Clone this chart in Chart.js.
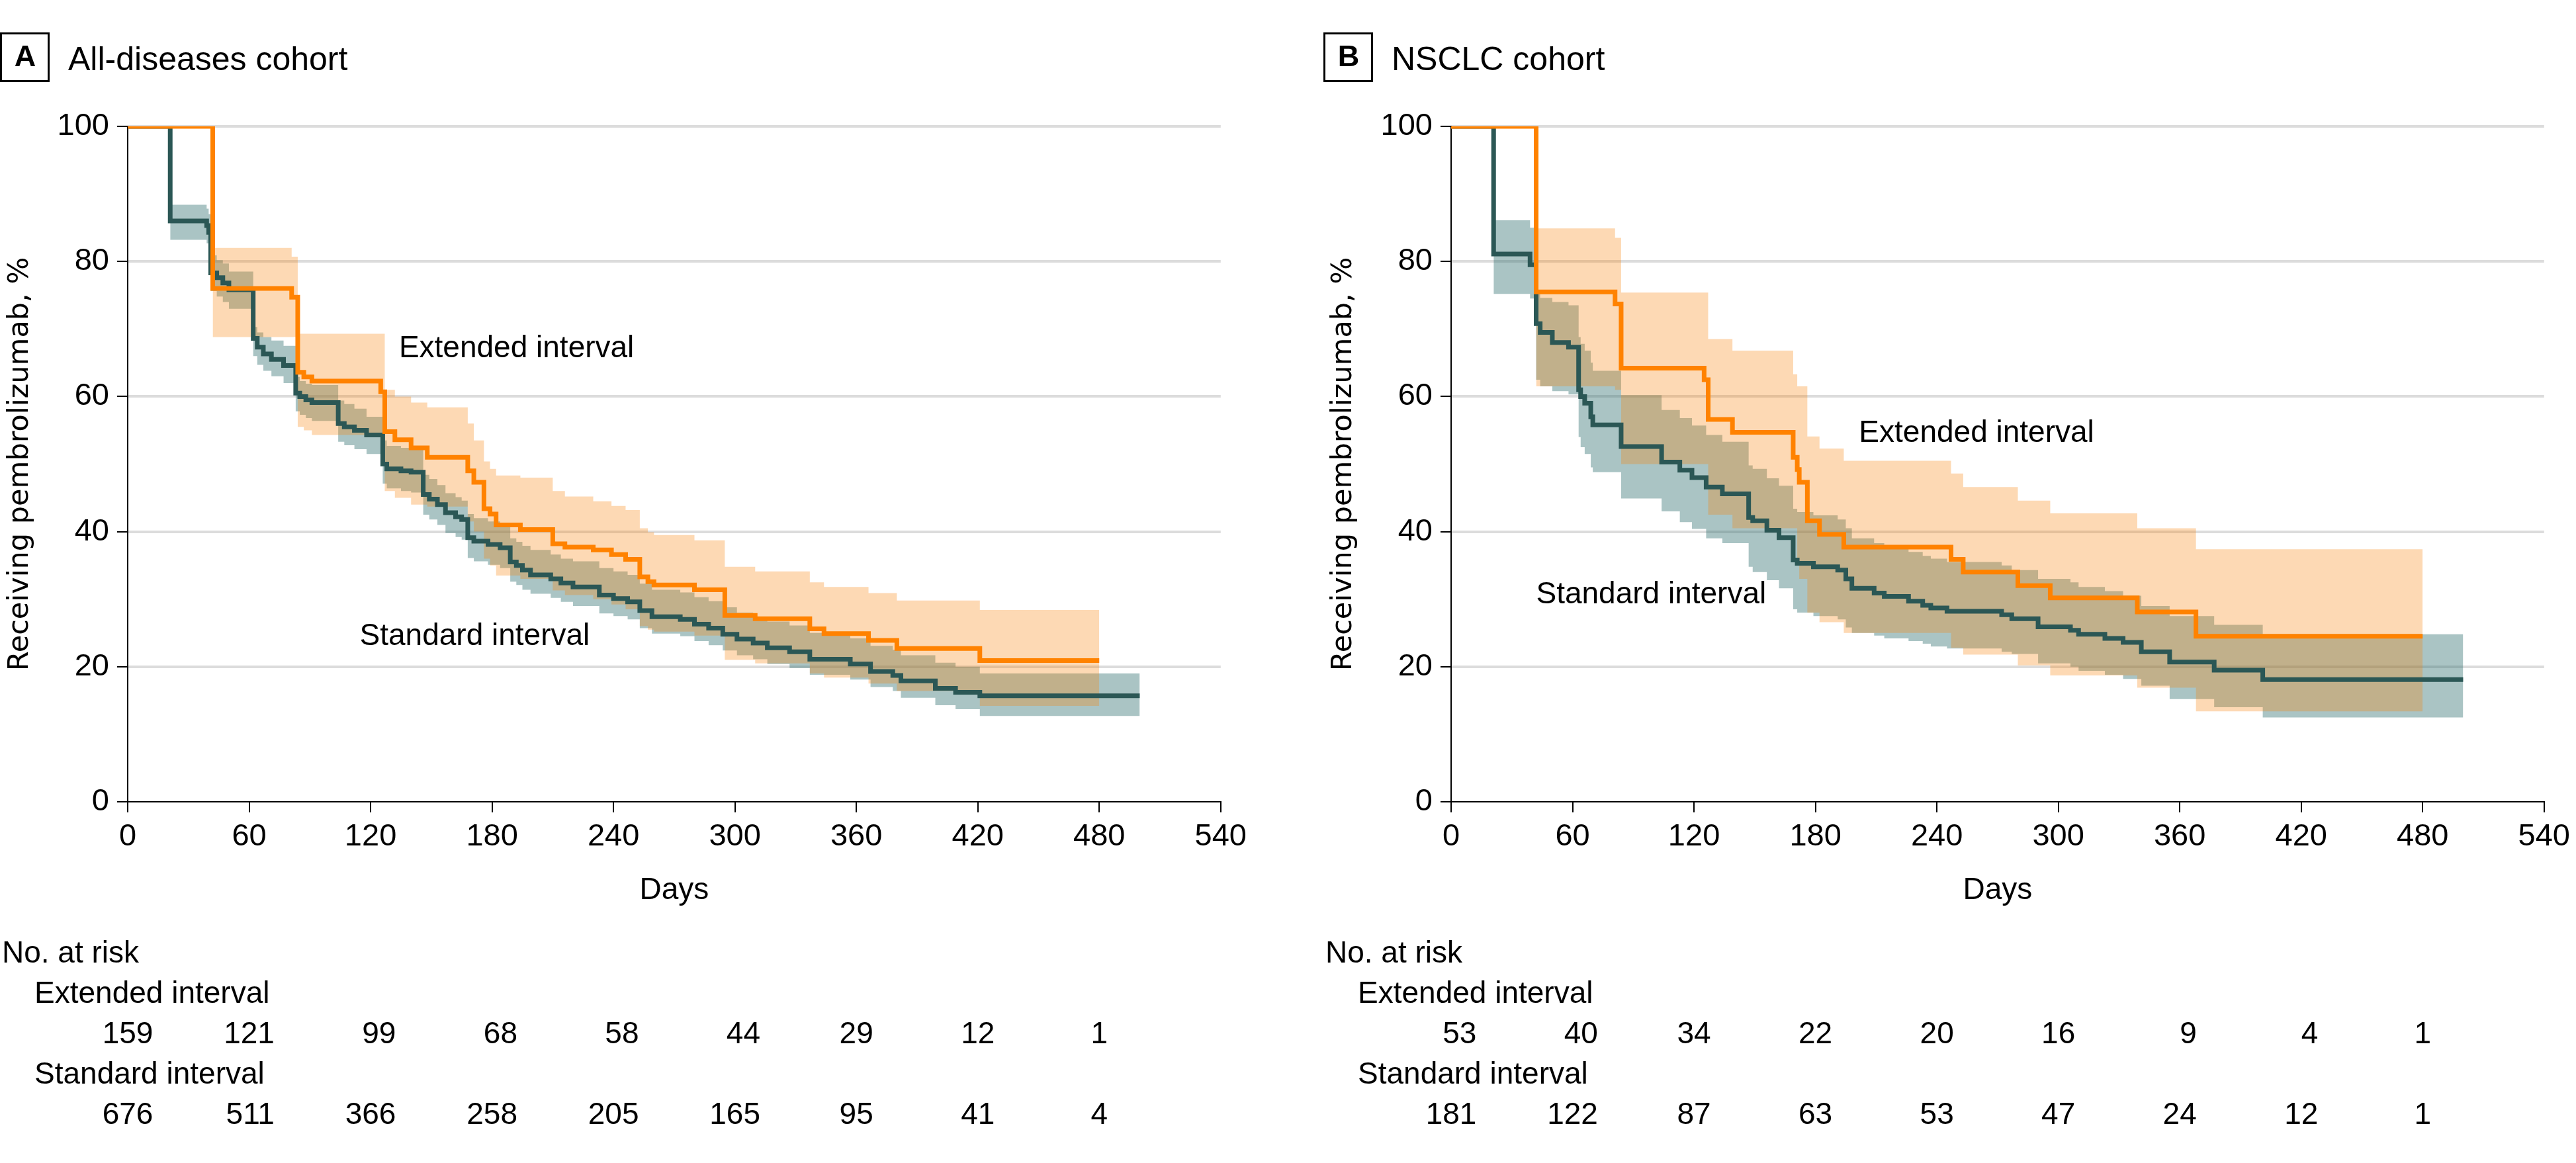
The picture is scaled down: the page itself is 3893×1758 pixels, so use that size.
<!DOCTYPE html>
<html>
<head>
<meta charset="utf-8">
<script src="https://cdn.jsdelivr.net/npm/chart.js@4.4.1/dist/chart.umd.min.js"></script>
<style>
  body { margin: 0; background: #fff; }
  canvas { position: absolute; top: 0; }
  #chartA { left: 0; }
  #chartB { left: 2000px; }
</style>
</head>
<body>
<canvas id="chartA" width="1893" height="1758"></canvas>
<canvas id="chartB" width="1893" height="1758"></canvas>
<script>
// ---- data ----
const riskDays = [0, 60, 120, 180, 240, 300, 360, 420, 480];

// A: all-diseases cohort
const extDaysA = [0, 42, 81, 84, 87, 91, 125, 127, 132, 140, 148, 168, 171, 176, 179, 182, 194, 210, 216, 230, 239, 246, 253, 257, 260, 280, 295, 310, 337, 344, 366, 380, 421, 480];
const extSurvA = [100, 76, 74.7, 63.6, 62.9, 62.3, 60.7, 54.8, 53.6, 52.4, 51.0, 49.0, 47.3, 43.4, 42.6, 41.0, 40.3, 38.2, 37.7, 37.3, 36.6, 35.9, 33.3, 32.6, 32.1, 31.4, 27.6, 27.1, 25.6, 24.9, 23.9, 22.7, 20.9, 20.9];
const extHiA = [82.0, 80.7, 69.3, 69.3, 69.3, 69.3, 61.0, 60.0, 59.1, 58.4, 56.0, 53.5, 50.4, 49.3, 48.3, 48.0, 46.0, 45.2, 44.5, 43.8, 43.2, 40.5, 39.9, 39.5, 38.7, 34.8, 34.1, 32.5, 31.8, 30.9, 29.8, 28.4, 28.4];
const extLoA = [68.8, 68.8, 55.5, 55.0, 54.3, 54.3, 46.0, 45.0, 44.0, 43.7, 41.5, 40.0, 36.0, 35.0, 33.5, 33.0, 31.3, 30.6, 30.0, 29.2, 28.5, 26.0, 25.5, 25.2, 24.6, 21.0, 20.5, 19.0, 18.4, 17.5, 16.4, 14.2, 14.2];

const stdDaysA = [0, 21, 39, 40, 41, 44, 47, 50, 62, 64, 67, 71, 77, 83, 85, 88, 91, 104, 107, 112, 118, 126, 128, 135, 140, 146, 149, 153, 157, 162, 165, 168, 171, 178, 184, 189, 192, 195, 199, 209, 214, 220, 233, 240, 247, 253, 259, 273, 280, 287, 294, 301, 309, 316, 327, 337, 357, 367, 378, 382, 399, 409, 421, 500];
const stdSurvA = [100, 86.0, 85.3, 84.3, 78.3, 77.6, 76.8, 75.8, 68.6, 67.3, 66.3, 65.5, 64.6, 60.5, 60.0, 59.5, 59.1, 56.0, 55.5, 55.0, 54.3, 50.0, 49.3, 49.0, 48.8, 45.5, 44.8, 44.0, 42.8, 42.2, 41.8, 39.1, 38.6, 38.1, 37.6, 35.5, 35.0, 34.3, 33.6, 33.0, 32.4, 31.8, 30.6, 30.1, 29.6, 28.3, 27.4, 27.0, 26.3, 25.7, 24.8, 24.1, 23.5, 22.8, 22.2, 21.1, 20.4, 19.3, 18.7, 17.9, 16.8, 16.2, 15.7, 15.7];
const stdHiA = [88.4, 87.8, 87.0, 80.9, 80.2, 79.7, 78.5, 70.3, 69.5, 68.8, 68.3, 67.5, 62.9, 62.3, 61.9, 61.7, 59.4, 58.9, 58.2, 57.0, 53.5, 52.7, 52.4, 52.2, 48.4, 47.8, 46.9, 45.7, 45.1, 44.6, 42.6, 42.0, 41.5, 41.0, 39.0, 38.5, 37.9, 37.3, 36.6, 36.0, 35.6, 34.6, 34.1, 33.6, 32.3, 31.4, 31.0, 30.3, 29.7, 28.8, 28.0, 27.4, 26.7, 26.1, 25.0, 24.2, 23.1, 22.5, 21.7, 20.6, 20.0, 19.0, 19.0];
const stdLoA = [83.2, 82.7, 81.8, 75.6, 74.8, 74.0, 73.0, 66.0, 64.7, 63.8, 63.0, 62.0, 57.8, 57.3, 56.8, 56.4, 53.3, 52.8, 52.2, 51.5, 47.1, 46.4, 46.0, 45.8, 42.5, 41.8, 41.0, 39.8, 39.2, 38.8, 36.1, 35.6, 35.1, 34.6, 32.6, 32.1, 31.4, 30.8, 30.2, 29.6, 29.0, 27.9, 27.5, 27.0, 25.7, 24.9, 24.5, 23.8, 23.2, 22.4, 21.7, 21.1, 20.4, 19.8, 18.8, 18.1, 17.0, 16.4, 15.4, 14.3, 13.7, 12.7, 12.7];

const riskExtA = [159, 121, 99, 68, 58, 44, 29, 12, 1];
const riskStdA = [676, 511, 366, 258, 205, 165, 95, 41, 4];

// B: NSCLC cohort
const extDaysB = [0, 42, 81, 84, 125, 127, 139, 169, 171, 172, 176, 182, 194, 247, 253, 280, 296, 339, 368, 480];
const extSurvB = [100, 75.5, 73.7, 64.2, 62.5, 56.6, 54.7, 51.0, 49.2, 47.3, 41.6, 39.6, 37.7, 35.9, 34.0, 32.0, 30.2, 28.1, 24.5, 24.5];
const extHiB = [84.9, 83.5, 75.4, 75.4, 68.5, 66.8, 63.3, 61.5, 61.5, 54.1, 52.3, 50.5, 48.6, 46.6, 44.6, 42.7, 40.5, 37.4, 37.4];
const extLoB = [61.5, 61.0, 50.0, 50.0, 42.5, 40.5, 40.5, 36.0, 33.0, 28.0, 26.6, 25.0, 22.8, 21.8, 20.2, 18.7, 16.9, 13.4, 13.4];

const stdDaysB = [0, 21, 39, 42, 44, 50, 58, 63, 64, 66, 69, 70, 84, 104, 113, 119, 126, 134, 147, 149, 156, 162, 169, 171, 179, 191, 195, 198, 209, 214, 226, 233, 237, 245, 272, 277, 290, 306, 310, 323, 332, 341, 355, 377, 401, 500];
const stdSurvB = [100, 81.1, 79.5, 70.8, 69.5, 68.0, 67.3, 61.0, 60.0, 59.0, 57.0, 55.8, 52.6, 50.3, 49.1, 48.0, 46.6, 45.6, 42.1, 41.6, 40.2, 39.1, 35.8, 35.3, 34.8, 34.3, 33.0, 31.6, 30.9, 30.4, 29.7, 29.1, 28.7, 28.2, 27.7, 27.1, 25.9, 25.4, 24.8, 24.2, 23.6, 22.2, 20.7, 19.5, 18.1, 18.1];
const stdHiB = [86.1, 85.0, 75.3, 74.6, 74.0, 73.5, 68.8, 67.8, 66.8, 65.0, 63.8, 60.2, 58.0, 56.8, 55.7, 54.3, 53.3, 49.8, 49.3, 47.9, 46.8, 43.4, 42.9, 42.4, 41.8, 40.5, 39.0, 38.3, 37.8, 37.0, 36.4, 36.0, 35.5, 35.0, 34.3, 33.0, 32.5, 31.8, 31.2, 30.5, 29.0, 27.5, 26.2, 24.8, 24.8];
const stdLoB = [75.2, 74.5, 62.5, 61.5, 60.8, 60.3, 54.0, 52.5, 51.5, 49.5, 48.8, 44.9, 43.0, 41.4, 40.4, 39.0, 38.3, 34.8, 34.0, 32.8, 31.6, 28.5, 28.0, 27.5, 27.0, 25.8, 25.0, 24.6, 24.2, 23.8, 23.4, 23.0, 22.7, 22.2, 21.9, 20.5, 20.0, 19.4, 18.8, 18.2, 17.2, 15.2, 14.0, 12.5, 12.5];

const riskExtB = [53, 40, 34, 22, 20, 16, 9, 4, 1];
const riskStdB = [181, 122, 87, 63, 53, 47, 24, 12, 1];

// ---- styling ----
const ORANGE = '#ff8200';
const TEAL = '#2b5755';
const ORANGE_BAND = 'rgba(248, 128, 5, 0.3)';
const TEAL_BAND = 'rgba(43, 108, 108, 0.4)';
const FONT = '"Liberation Sans", Arial, sans-serif';

Chart.defaults.font.family = FONT;
Chart.defaults.color = '#000';

function pts(days, vals) {
  return days.map((d, i) => ({ x: d, y: vals[i] }));
}

function curve(data, color) {
  return { data, borderColor: color, borderWidth: 7, stepped: true, pointRadius: 0, fill: false };
}

function band(data, fill, color) {
  return {
    data, stepped: true, pointRadius: 0, borderWidth: 0,
    borderColor: 'rgba(0,0,0,0)', backgroundColor: color, fill
  };
}

// panel letter, title, curve labels and number-at-risk table
const panelExtras = {
  id: 'panelExtras',
  afterDraw(chart, args, o) {
    const { ctx, scales: { x, y } } = chart;
    ctx.save();
    ctx.fillStyle = '#000';
    ctx.strokeStyle = '#000';
    ctx.lineWidth = 3;
    ctx.strokeRect(1.5, 50.5, 72, 72);
    ctx.font = 'bold 45px ' + FONT;
    ctx.textAlign = 'center';
    ctx.textBaseline = 'middle';
    ctx.fillText(o.letter, 38, 88);
    ctx.font = '50px ' + FONT;
    ctx.textAlign = 'left';
    ctx.textBaseline = 'alphabetic';
    ctx.fillText(o.title, 103, 106);

    ctx.font = '46px ' + FONT;
    o.labels.forEach(l => {
      ctx.fillText(l.text, x.getPixelForValue(l.day), y.getPixelForValue(l.pct));
    });

    ctx.textBaseline = 'middle';
    ctx.fillText('No. at risk', 3, 1442);
    ctx.fillText('Extended interval', 52, 1503);
    ctx.fillText('Standard interval', 52, 1625);
    ctx.textAlign = 'right';
    riskDays.forEach((d, i) => {
      const w = Math.max(ctx.measureText(String(o.ext[i])).width, ctx.measureText(String(o.std[i])).width);
      const right = x.getPixelForValue(d) + w / 2;
      ctx.fillText(String(o.ext[i]), right, 1564);
      ctx.fillText(String(o.std[i]), right, 1686);
    });
    ctx.restore();
  }
};

function makePanel(id, p) {
  return new Chart(document.getElementById(id), {
    type: 'line',
    data: {
      datasets: [
        curve(pts(p.extDays, p.extSurv), ORANGE),
        curve(pts(p.stdDays, p.stdSurv), TEAL),
        band(pts(p.extDays.slice(1), p.extHi), '+1', ORANGE_BAND),
        band(pts(p.extDays.slice(1), p.extLo), false, ORANGE_BAND),
        band(pts(p.stdDays.slice(1), p.stdHi), '+1', TEAL_BAND),
        band(pts(p.stdDays.slice(1), p.stdLo), false, TEAL_BAND)
      ]
    },
    options: {
      responsive: false,
      devicePixelRatio: 1,
      animation: false,
      events: [],
      layout: { padding: { left: 0, right: 42, top: 191, bottom: 0 } },
      scales: {
        x: {
          type: 'linear',
          min: 0,
          max: 540,
          afterFit: s => { s.height = 546; },
          ticks: { stepSize: 60, autoSkip: false, maxRotation: 0, padding: 9, font: { size: 47 } },
          grid: { drawOnChartArea: false, drawTicks: true, tickLength: 16, color: '#000', lineWidth: 2 },
          border: { color: '#000', width: 2 },
          title: { display: true, text: 'Days', font: { size: 46 }, padding: { top: 0, bottom: 384 } }
        },
        y: {
          min: 0,
          max: 100,
          afterFit: s => { s.width = 193; },
          ticks: { stepSize: 20, padding: 12, font: { size: 47 } },
          grid: {
            color: c => (c.tick && c.tick.value === 0 ? 'rgba(0,0,0,0)' : '#dcdcdc'),
            lineWidth: 4,
            tickColor: '#000',
            tickWidth: 2,
            tickLength: 16
          },
          border: { color: '#000', width: 2 },
          title: {
            display: true,
            text: 'Receiving pembrolizumab, %',
            font: { family: '"DejaVu Sans", Verdana, sans-serif', size: 43 },
            padding: { top: 5, bottom: 0 }
          }
        }
      },
      plugins: {
        legend: { display: false },
        tooltip: { enabled: false },
        filler: { drawTime: 'beforeDatasetsDraw' },
        panelExtras: p.extras
      }
    },
    plugins: [panelExtras]
  });
}

makePanel('chartA', {
  extDays: extDaysA, extSurv: extSurvA, extHi: extHiA, extLo: extLoA,
  stdDays: stdDaysA, stdSurv: stdSurvA, stdHi: stdHiA, stdLo: stdLoA,
  extras: {
    letter: 'A', title: 'All-diseases cohort',
    labels: [
      { text: 'Extended interval', day: 134, pct: 65.8 },
      { text: 'Standard interval', day: 114.6, pct: 23.2 }
    ],
    ext: riskExtA, std: riskStdA
  }
});

makePanel('chartB', {
  extDays: extDaysB, extSurv: extSurvB, extHi: extHiB, extLo: extLoB,
  stdDays: stdDaysB, stdSurv: stdSurvB, stdHi: stdHiB, stdLo: stdLoB,
  extras: {
    letter: 'B', title: 'NSCLC cohort',
    labels: [
      { text: 'Extended interval', day: 201.5, pct: 53.3 },
      { text: 'Standard interval', day: 42, pct: 29.4 }
    ],
    ext: riskExtB, std: riskStdB
  }
});
</script>
</body>
</html>
